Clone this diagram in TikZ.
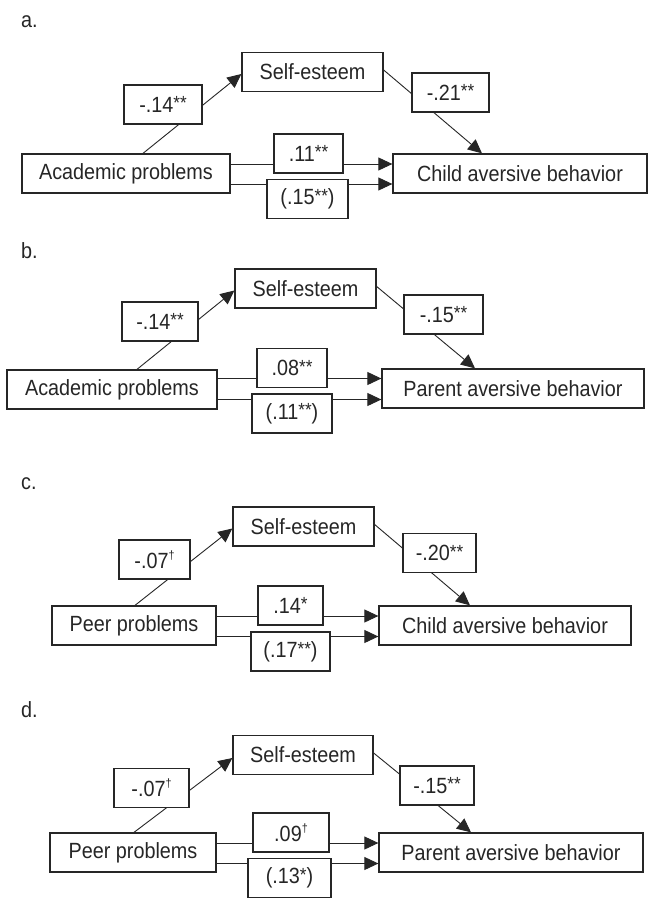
\documentclass[tikz,border=0pt]{standalone}
\usepackage{fontspec}
\setmainfont[FakeStretch=0.9]{Liberation Sans}
\usetikzlibrary{arrows.meta,calc}
\newcommand\stars[1]{\raisebox{0.1em}{\fontsize{19}{19}\selectfont #1}}
\newcommand\dagsup{\raisebox{0.42em}{\fontsize{12}{12}\selectfont †}}
\begin{document}
\begin{tikzpicture}[x=1pt,y=-1pt,
  every node/.style={font=\fontsize{22}{24}\selectfont, text=black!85},
  box/.style={draw=black!85, line width=1.3pt, fill=white, minimum width=#1, minimum height=39pt, inner sep=0pt},
  panellabel/.style={anchor=west, inner sep=0pt},
  conn/.style={draw=black!85, line width=0.9pt},
  arr/.style={conn, -{Triangle[length=14pt,width=13pt]}}]
\useasboundingbox[fill=white] (0,0) rectangle (648,902);

% ---------- panel a ----------
\node[panellabel] (pa) at (21,22) {a.};
\node[box=141pt] (sea) at (312.5,72) {Self-esteem};
\node[box=208pt] (pra) at (126,173.5) {Academic problems};
\node[box=254pt] (oa) at (520,173.5) {Child aversive behavior};
\draw[arr] ([xshift=17pt]pra.north) -- ([yshift=-2pt]sea.west);
\draw[arr] ([yshift=2pt]sea.east) -- ([xshift=-38pt]oa.north);
\draw[arr] ([yshift=9.5pt]pra.east) -- ([yshift=9.5pt]pra.east -| oa.west);
\draw[arr] ([yshift=-10.5pt]pra.east) -- ([yshift=-10.5pt]pra.east -| oa.west);
\node[box=78pt] (ka1) at (163,104.5) {-.14\stars{**}};
\node[box=77pt] (ka2) at (450.5,92.5) {-.21\stars{**}};
\node[box=69pt] (ka3) at (308.5,153.5) {.11\stars{**}};
\node[box=81pt] (ka4) at (307.5,199) {(.15\stars{**})};

% ---------- panel b ----------
\node[panellabel] (pb) at (21,251) {b.};
\node[box=141pt] (seb) at (305.5,288.5) {Self-esteem};
\node[box=210pt] (prb) at (112,389.5) {Academic problems};
\node[box=262pt] (ob) at (513,388.5) {Parent aversive behavior};
\draw[arr] ([xshift=25pt]prb.north) -- ([yshift=-2pt]seb.west);
\draw[arr] ([yshift=2pt]seb.east) -- ([xshift=-38pt]ob.north);
\draw[arr] ([yshift=11pt]prb.east) -- ([yshift=11pt]prb.east -| ob.west);
\draw[arr] ([yshift=-10pt]prb.east) -- ([yshift=-10pt]prb.east -| ob.west);
\node[box=76pt] (kb1) at (160,321.5) {-.14\stars{**}};
\node[box=79pt] (kb2) at (443.5,314.5) {-.15\stars{**}};
\node[box=70pt] (kb3) at (292,368) {.08\stars{**}};
\node[box=80pt] (kb4) at (292,413.5) {(.11\stars{**})};

% ---------- panel c ----------
\node[panellabel] (pc) at (21,484) {c.};
\node[box=141pt] (sec) at (303.5,526.5) {Self-esteem};
\node[box=164pt] (prc) at (134,625.5) {Peer problems};
\node[box=252pt] (oc) at (505,625.5) {Child aversive behavior};
\draw[arr] ([xshift=1pt]prc.north) -- ([yshift=-2pt]sec.west);
\draw[arr] ([yshift=2pt]sec.east) -- ([xshift=-35pt]oc.north);
\draw[arr] ([yshift=9.5pt]prc.east) -- ([yshift=9.5pt]prc.east -| oc.west);
\draw[arr] ([yshift=-11pt]prc.east) -- ([yshift=-11pt]prc.east -| oc.west);
\node[box=71pt] (kc1) at (154.5,559.5) {-.07\dagsup};
\node[box=73pt] (kc2) at (439.5,553) {-.20\stars{**}};
\node[box=65pt] (kc3) at (290.5,605.5) {.14\stars{*}};
\node[box=79pt] (kc4) at (290.5,651.5) {(.17\stars{**})};

% ---------- panel d ----------
\node[panellabel] (pd) at (21,710) {d.};
\node[box=140pt] (sed) at (303,755) {Self-esteem};
\node[box=166pt] (prd) at (133,852.5) {Peer problems};
\node[box=264pt] (od) at (511,852.5) {Parent aversive behavior};
\draw[arr] ([xshift=1pt]prd.north) -- ([yshift=-3pt]sed.west);
\draw[arr] ([yshift=2pt]sed.east) -- ([xshift=-40pt]od.north);
\draw[arr] ([yshift=9.5pt]prd.east) -- ([yshift=9.5pt]prd.east -| od.west);
\draw[arr] ([yshift=-11pt]prd.east) -- ([yshift=-11pt]prd.east -| od.west);
\node[box=75pt] (kd1) at (151.5,788) {-.07\dagsup};
\node[box=74pt] (kd2) at (437,785.5) {-.15\stars{**}};
\node[box=76pt] (kd3) at (291,832.5) {.09\dagsup};
\node[box=83pt] (kd4) at (289.5,878) {(.13\stars{*})};
\end{tikzpicture}
\end{document}
